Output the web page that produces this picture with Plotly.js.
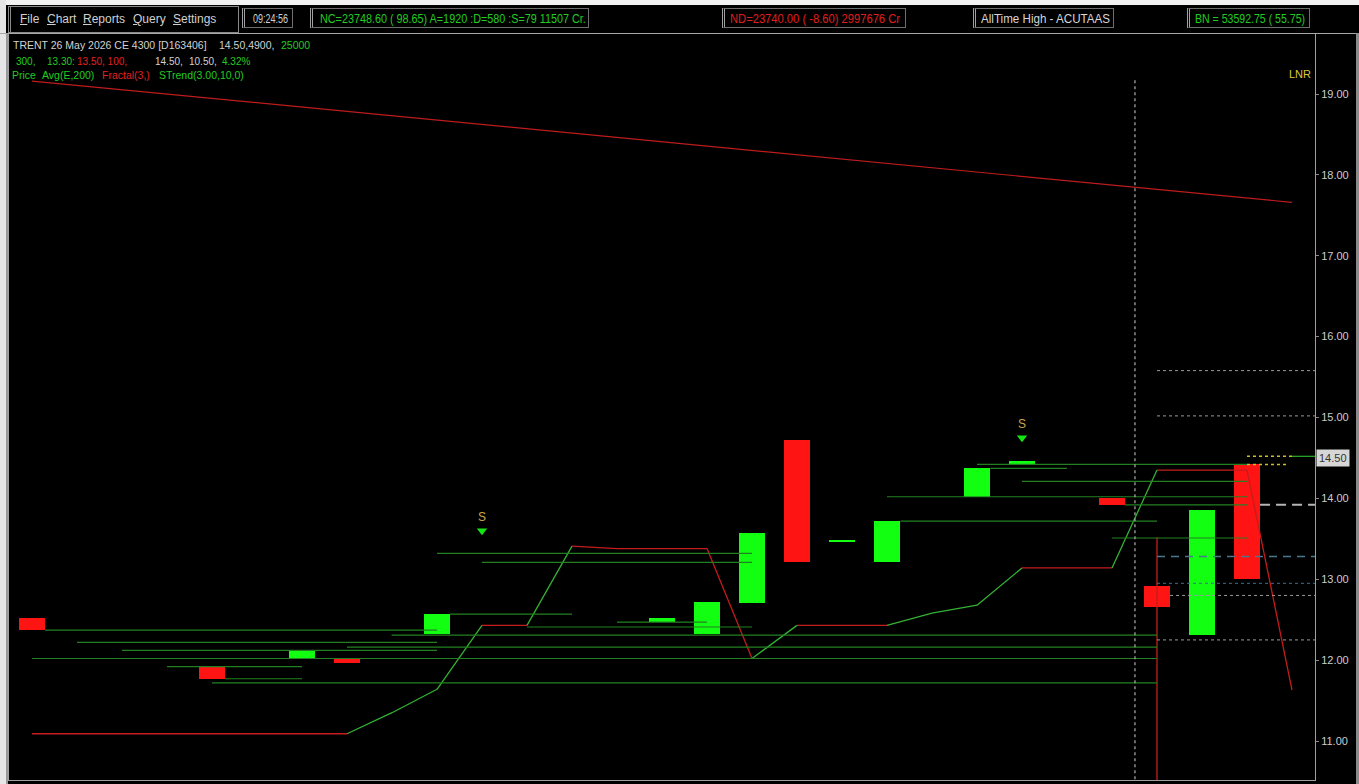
<!DOCTYPE html>
<html><head><meta charset="utf-8">
<script src="https://cdn.plot.ly/plotly-3.0.1.min.js"></script>
<style>
body{margin:0;background:#000;}
#wrap{position:relative;width:1359px;height:784px;overflow:hidden;background:#000;font-family:"Liberation Sans",Arial,sans-serif;}
#chart{position:absolute;left:0;top:0;width:1359px;height:784px;}
.bx{position:absolute;box-sizing:border-box;border:1px solid #6e6e6e;border-left:3px double #a0a0a0;background:#000;overflow:hidden;}
.bx .t{position:absolute;top:1px;display:inline-block;white-space:pre;font-size:13px;line-height:17px;transform-origin:0 50%;font-family:"Liberation Sans",sans-serif;}
.strip{position:absolute;}
.menu span{position:absolute;top:5px;font-size:12px;color:#d0d0d0;font-family:"Liberation Sans",sans-serif;}
</style></head>
<body>
<div id="wrap">
<div id="chart"></div>
<div class="strip" style="left:0;top:0;width:1359px;height:5px;background:#f2f2f2;"></div>
<div class="strip" style="left:0;top:0;width:6px;height:784px;background:#e6e6e6;"></div>
<div class="strip" style="left:6px;top:33px;width:2px;height:751px;background:#9a9a9a;"></div>
<div class="strip" style="left:0;top:33px;width:1359px;height:1px;background:#a8a8a8;"></div>
<div class="strip" style="left:1356px;top:33px;width:3px;height:751px;background:#8a8a8a;"></div>
<div class="bx menu" style="left:8px;top:6px;width:231px;height:27px;border-color:#8a8a8a;">
  <span style="left:9px"><u>F</u>ile</span>
  <span style="left:36px"><u>C</u>hart</span>
  <span style="left:72px"><u>R</u>eports</span>
  <span style="left:122px"><u>Q</u>uery</span>
  <span style="left:162px"><u>S</u>ettings</span>
</div>
<div class="bx" style="left:242px;top:8px;width:51px;height:20px;"><span class="t" data-w="35" style="left:8px;color:#cfcfcf;">09:24:56</span></div>
<div class="bx" style="left:310px;top:8px;width:279px;height:20px;"><span class="t" data-w="266" style="left:7px;color:#22cc22;">NC=23748.60 ( 98.65) A=1920 :D=580 :S=79 11507 Cr.</span></div>
<div class="bx" style="left:722px;top:8px;width:184px;height:20px;"><span class="t" data-w="170" style="left:5px;color:#e01e1e;">ND=23740.00 ( -8.60) 2997676 Cr</span></div>
<div class="bx" style="left:973px;top:8px;width:141px;height:20px;"><span class="t" data-w="129" style="left:5px;color:#d6d6d6;">AllTime High - ACUTAAS</span></div>
<div class="bx" style="left:1187px;top:8px;width:123px;height:20px;"><span class="t" data-w="110" style="left:5px;color:#22cc22;">BN = 53592.75 ( 55.75)</span></div>
</div>
<script>
// ---- data (x = bar slot index, y = price) ----
const candleSlots = [0, 4, 6, 7, 9, 14, 15, 16, 17, 18, 19, 21, 22, 24, 25, 26, 27];
const candleOpen  = [12.52, 11.91, 12.02, 12.01, 12.32, 12.47, 12.32, 12.71, 14.72, 13.46, 13.21, 14.02, 14.42, 14.01, 12.92, 12.31, 14.42];
const candleClose = [12.37, 11.77, 12.11, 11.96, 12.57, 12.52, 12.72, 13.57, 13.21, 13.48, 13.72, 14.37, 14.46, 13.92, 12.66, 13.86, 13.00];

const stSlots  = [0,1,2,3,4,5,6,7,8,9,10,11,12,13,14,15,16,17,18,19,20,21,22,23,24,25,26,27,28];
const stValues = [11.09,11.09,11.09,11.09,11.09,11.09,11.09,11.09,11.35,11.64,12.43,12.43,13.41,13.38,13.38,13.38,12.02,12.43,12.43,12.43,12.58,12.68,13.14,13.14,13.14,14.35,14.35,14.35,11.63];
const stDir    = ['dn','dn','dn','dn','dn','dn','dn','up','up','up','dn','up','dn','dn','dn','dn','up','dn','dn','up','up','up','dn','dn','up','dn','dn','dn'];

const lnrSlots  = [0, 28];
const lnrValues = [19.16, 17.66];

const lvlValues = [12.37, 12.31, 12.22, 12.16, 12.12, 12.02, 11.92, 11.77, 11.72, 13.32, 13.21, 12.57, 12.47, 12.41, 14.42, 14.37, 14.21, 14.02, 13.92, 13.72, 13.51];
const lvlFrom   = [0.29, 7.99, 1, 7, 2, 0, 3, 4.29, 4, 9, 10, 9.29, 13, 11, 21, 21.3, 22, 19, 24.29, 19.3, 24];
const lvlTo     = [9, 25, 9, 25, 9, 25, 6, 6, 25, 16, 16, 12, 15, 16, 27, 23, 27, 27, 27, 25, 27];

const projValues = [15.58, 15.02, 12.95, 12.80, 12.25, 13.28, 13.92];
const projFrom   = [25, 25, 25, 25.29, 25, 25, 27.29];

const lastValues = [14.52, 14.42];
const lastFrom   = [27, 27];
const lastTo     = [28, 27.9];

const cursorSlot = 24.51;
const cursorTop  = 19.17;
const spikeSlot  = 25;
const spikeTop   = 13.52;

const sigSlots  = [10, 22];
const sigValues = [13.60, 14.75];
const sigLabels = ['S', 'S'];

const yTicks = [11, 12, 13, 14, 15, 16, 17, 18, 19];
const lastPrice = 14.50;

// ---- styles ----
const xRange = [-0.511, 28.511];
const yRange = [10.518, 19.742];
const upColor = 'rgb(18,255,18)', dnColor = 'rgb(255,20,20)';
const stUp = 'rgb(52,178,52)', stDn = 'rgb(196,28,28)';
const lvlColor = 'rgb(34,128,34)';
const projStyle = [
  {color:'#9a9a9a', dash:'dot', width:1},
  {color:'#9a9a9a', dash:'dot', width:1},
  {color:'#3f6f8f', dash:'dot', width:1},
  {color:'#9a9a9a', dash:'dot', width:1},
  {color:'#9a9a9a', dash:'dot', width:1},
  {color:'#4a7a8a', dash:'8px,6px', width:1.5},
  {color:'#b5b5b5', dash:'10px,6px', width:2}
];

function lines(vals, from, to) {
  const xs = [], ys = [];
  vals.forEach((v, i) => { xs.push(from[i], to[i], null); ys.push(v, v, null); });
  return {xs, ys};
}
function stSeg(dir) {
  const xs = [], ys = [];
  for (let i = 0; i < stDir.length; i++) {
    if (stDir[i] === dir) { xs.push(stSlots[i], stSlots[i+1], null); ys.push(stValues[i], stValues[i+1], null); }
  }
  return {xs, ys};
}

const traces = [];
traces.push({type:'scatter', mode:'lines', x:lnrSlots, y:lnrValues, line:{color:'rgb(190,28,28)', width:1.2}, hoverinfo:'skip'});
const sd = stSeg('dn'), su = stSeg('up');
traces.push({type:'scatter', mode:'lines', x:sd.xs, y:sd.ys, line:{color:stDn, width:1.3}, hoverinfo:'skip'});
traces.push({type:'scatter', mode:'lines', x:su.xs, y:su.ys, line:{color:stUp, width:1.3}, hoverinfo:'skip'});
traces.push({type:'scatter', mode:'lines', x:[spikeSlot, spikeSlot], y:[spikeTop, yRange[0]-1], line:{color:stDn, width:1.3}, hoverinfo:'skip'});

traces.push({
  type:'bar', x:candleSlots,
  y:candleOpen.map((o,i)=>Math.abs(candleClose[i]-o)),
  base:candleOpen.map((o,i)=>Math.min(o,candleClose[i])),
  width:0.58,
  marker:{color:candleOpen.map((o,i)=>candleClose[i]>=o?upColor:dnColor), line:{width:0}},
  hoverinfo:'skip'
});

const lv = lines(lvlValues, lvlFrom, lvlTo);
traces.push({type:'scatter', mode:'lines', x:lv.xs, y:lv.ys, line:{color:lvlColor, width:1.2}, hoverinfo:'skip'});

projValues.forEach((v, i) => {
  traces.push({type:'scatter', mode:'lines', x:[projFrom[i], xRange[1]], y:[v, v], line:projStyle[i], hoverinfo:'skip'});
});
const ly = lines(lastValues, lastFrom, lastTo);
traces.push({type:'scatter', mode:'lines', x:ly.xs, y:ly.ys, line:{color:'#c8c028', dash:'dot', width:1.5}, hoverinfo:'skip'});
traces.push({type:'scatter', mode:'lines', x:[lastTo[0], xRange[1]], y:[lastValues[0], lastValues[0]], line:{color:'rgb(40,160,40)', width:1.3}, hoverinfo:'skip'});

traces.push({type:'scatter', mode:'lines', x:[cursorSlot, cursorSlot], y:[cursorTop, yRange[0]-1], line:{color:'#b0b0b0', dash:'dot', width:1.2}, hoverinfo:'skip'});

traces.push({type:'scatter', mode:'markers+text', x:sigSlots, y:sigValues, text:sigLabels,
  textposition:'top center', textfont:{family:'Liberation Sans', size:12, color:'#c9a64c'},
  marker:{symbol:'triangle-down', size:9, color:'rgb(20,230,20)', line:{width:0}}, hoverinfo:'skip'});

// header annotations
const G = '#d2d2d2', GR = '#22cc22', R = '#e22020';
const hdr = [
  ['TRENT 26 May 2026 CE 4300 [D163406]', G, 11, 45, 10.5],
  ['14.50,4900,', G, 217, 45, 10.5],
  ['25000', GR, 279, 45, 10.5],
  ['300,', GR, 14, 61, 10],
  ['13.30:', GR, 45, 61, 10],
  ['13.50, 100,', R, 75, 61, 10],
  ['14.50,', G, 153, 61, 10],
  ['10.50,', G, 187, 61, 10],
  ['4.32%', GR, 220, 61, 10],
  ['Price', GR, 10, 75, 10.5],
  ['Avg(E,200)', GR, 40, 75, 10.5],
  ['Fractal(3,)', R, 100, 75, 10.5],
  ['STrend(3.00,10,0)', GR, 157, 75, 10.5]
];
const plotL = 9, plotT = 34, plotW = 1359 - 9 - 44, plotH = 784 - 34 - 4;
const annotations = hdr.map(h => ({
  xref:'paper', yref:'paper', x:(h[2]-plotL)/plotW, y:1-(h[3]-plotT)/plotH,
  xanchor:'left', yanchor:'middle', text:h[0], showarrow:false,
  font:{family:'Liberation Sans', size:h[4], color:h[1]}
}));
annotations.push({xref:'paper', yref:'y', x:1, xshift:-2, y:19.247, xanchor:'right', yanchor:'middle',
  text:'LNR', showarrow:false, font:{family:'Liberation Sans', size:11, color:'#d9c93a'}});
annotations.push({xref:'paper', yref:'y', x:1, xshift:1, y:lastPrice, xanchor:'left', yanchor:'middle',
  text:lastPrice.toFixed(2), showarrow:false, bgcolor:'#d6d6d6', borderpad:2,
  font:{family:'Liberation Sans', size:11, color:'#333'}});

const layout = {
  width:1359, height:784,
  margin:{l:plotL, r:44, t:plotT, b:4, pad:0},
  paper_bgcolor:'#000', plot_bgcolor:'#000',
  showlegend:false, bargap:0,
  xaxis:{range:xRange, showgrid:false, zeroline:false, showticklabels:false, ticks:'',
    showline:true, mirror:true, linecolor:'#a0a0a0', linewidth:1, fixedrange:true},
  yaxis:{range:yRange, side:'right', showgrid:false, zeroline:false,
    tickvals:yTicks, ticktext:yTicks.map(v=>v.toFixed(2)),
    ticks:'outside', ticklen:3, tickcolor:'#888', tickwidth:1,
    tickfont:{family:'Liberation Sans', size:11, color:'#cdcdcd'},
    showline:true, mirror:true, linecolor:'#a0a0a0', linewidth:1, fixedrange:true},
  annotations:annotations
};
Plotly.newPlot('chart', traces, layout, {staticPlot:true, displayModeBar:false});

// fit toolbar texts to their boxes (narrow font look)
document.querySelectorAll('.bx .t').forEach(el => {
  const w = el.getBoundingClientRect().width;
  const target = parseFloat(el.getAttribute('data-w'));
  if (w > 0) el.style.transform = 'scaleX(' + (target / w).toFixed(3) + ')';
});
</script>
</body></html>
